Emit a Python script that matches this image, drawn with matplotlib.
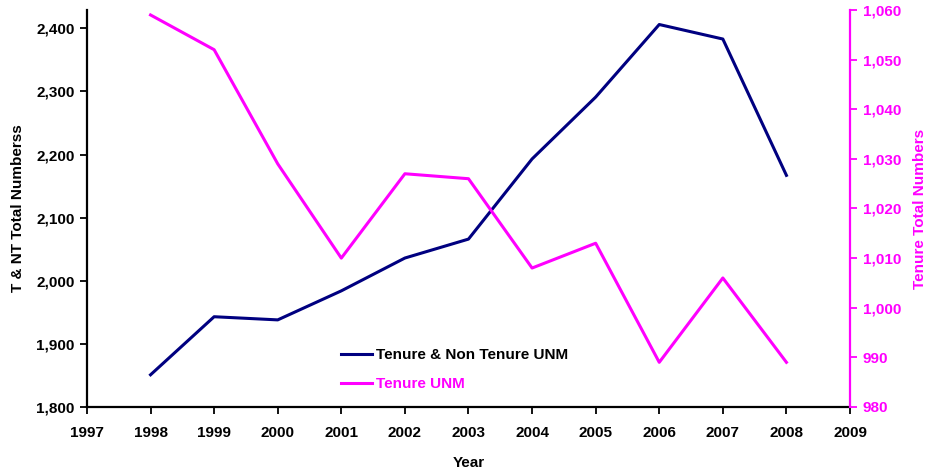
import matplotlib.pyplot as plt
from matplotlib.ticker import FuncFormatter, MultipleLocator

plt.rcParams['font.family'] = ['Liberation Sans', 'DejaVu Sans']
plt.rcParams['font.weight'] = 'bold'

# data
years = [1998, 1999, 2000, 2001, 2002, 2003, 2004, 2005, 2006, 2007, 2008]
tnt_total = [1851, 1943, 1938, 1984, 2036, 2066, 2193, 2291, 2406, 2383, 2167]
tenure_total = [1059, 1052, 1029, 1010, 1027, 1026, 1008, 1013, 989, 1006, 989]

navy = '#000080'
magenta = '#FF00FF'

fig = plt.figure(figsize=(9.3, 4.76), dpi=100)
ax = fig.add_axes([0.0935, 0.145, 0.8205, 0.834])
ax2 = ax.twinx()

l1, = ax.plot(years, tnt_total, color=navy, lw=2.2, label='Tenure & Non Tenure UNM')
l2, = ax2.plot(years, tenure_total, color=magenta, lw=2.2, label='Tenure UNM')

ax.set_xlim(1997, 2009)
ax.set_ylim(1800, 2429)
ax2.set_ylim(980, 1060)
ax.xaxis.set_major_locator(MultipleLocator(1))
ax.yaxis.set_major_locator(MultipleLocator(100))
ax2.yaxis.set_major_locator(MultipleLocator(10))

comma = FuncFormatter(lambda v, p: f'{int(v):,}')
ax.yaxis.set_major_formatter(comma)
ax2.yaxis.set_major_formatter(comma)

for a in (ax, ax2):
    a.spines['top'].set_visible(False)
ax.spines['right'].set_visible(False)
ax2.spines['left'].set_visible(False)
ax2.spines['bottom'].set_visible(False)
ax2.spines['right'].set_color(magenta)
ax2.spines['right'].set_linewidth(1.6)
ax.spines['left'].set_linewidth(1.6)
ax.spines['bottom'].set_linewidth(1.6)

ax.tick_params(axis='both', direction='out', length=5, width=1.3, labelsize=11, pad=4)
ax2.tick_params(axis='y', direction='out', length=5, width=1.3, labelsize=11,
                colors=magenta, pad=4)
ax.tick_params(axis='x', pad=9)

ax.set_xlabel('Year', fontsize=11, fontweight='bold', labelpad=11)
ax.set_ylabel('T & NT Total Numberss', fontsize=11, fontweight='bold', labelpad=8)
ax2.set_ylabel('Tenure Total Numbers', fontsize=11, fontweight='bold',
               color=magenta, labelpad=9)

leg = ax.legend(handles=[l1, l2], loc='upper left', bbox_to_anchor=(0.352, 0.297),
                bbox_transform=fig.transFigure, frameon=False, fontsize=11,
                handlelength=2.0, handletextpad=0.3, labelspacing=0.95)
for txt, line in zip(leg.get_texts(), [l1, l2]):
    txt.set_color('black' if line is l1 else magenta)

fig.savefig('out.png', dpi=100)
